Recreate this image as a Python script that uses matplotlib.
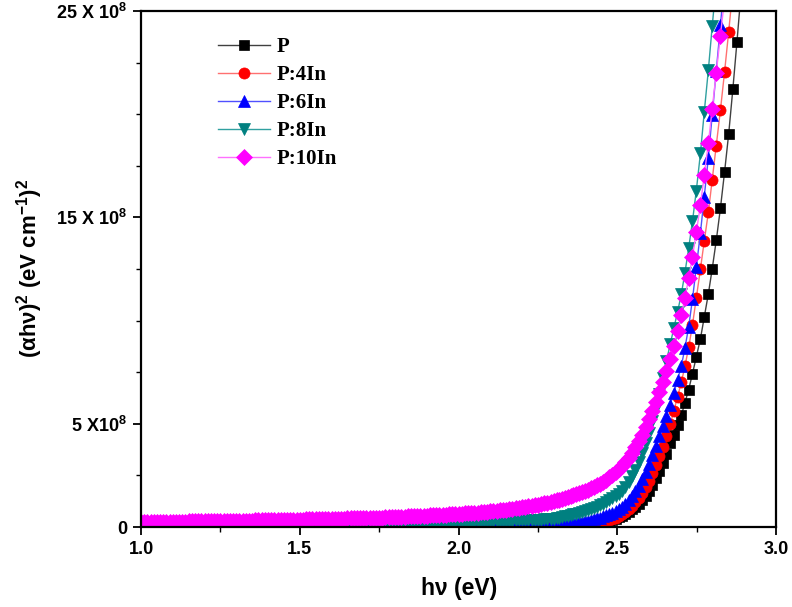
import matplotlib
matplotlib.use('Agg')
import matplotlib.pyplot as plt
from matplotlib.ticker import FixedLocator

plt.rcParams['mathtext.fontset'] = 'custom'
plt.rcParams['mathtext.rm'] = 'Liberation Sans:bold'
plt.rcParams['mathtext.it'] = 'Liberation Sans:bold'
plt.rcParams['mathtext.bf'] = 'Liberation Sans:bold'
plt.rcParams['mathtext.default'] = 'bf'

# photon energy (eV): dense low-energy part, then the measured absorption-edge points
energy_low = [
    1.00, 1.01, 1.02, 1.03, 1.04, 1.05, 1.06, 1.07, 1.08, 1.09,
    1.10, 1.11, 1.12, 1.13, 1.14, 1.15, 1.16, 1.17, 1.18, 1.19,
    1.20, 1.21, 1.22, 1.23, 1.24, 1.25, 1.26, 1.27, 1.28, 1.29,
    1.30, 1.31, 1.32, 1.33, 1.34, 1.35, 1.36, 1.37, 1.38, 1.39,
    1.40, 1.41, 1.42, 1.43, 1.44, 1.45, 1.46, 1.47, 1.48, 1.49,
    1.50, 1.51, 1.52, 1.53, 1.54, 1.55, 1.56, 1.57, 1.58, 1.59,
    1.60, 1.61, 1.62, 1.63, 1.64, 1.65, 1.66, 1.67, 1.68, 1.69,
    1.70, 1.71, 1.72, 1.73, 1.74, 1.75, 1.76, 1.77, 1.78, 1.79,
    1.80, 1.81, 1.82, 1.83, 1.84, 1.85, 1.86, 1.87, 1.88, 1.89,
    1.90, 1.91, 1.92, 1.93, 1.94, 1.95, 1.96, 1.97, 1.98, 1.99,
    2.00, 2.01, 2.02, 2.03, 2.04, 2.05, 2.06, 2.07, 2.08, 2.09,
    2.10, 2.11, 2.12, 2.13, 2.14, 2.15, 2.16, 2.17, 2.18, 2.19,
    2.20, 2.21, 2.22, 2.23, 2.24, 2.25, 2.26, 2.27, 2.28,
]
energy_edge = [
    2.292, 2.301, 2.309, 2.318, 2.326, 2.335, 2.344, 2.353, 2.362, 2.371,
    2.380, 2.389, 2.398, 2.408, 2.417, 2.427, 2.436, 2.446, 2.455, 2.465,
    2.475, 2.485, 2.495, 2.505, 2.515, 2.525, 2.536, 2.546, 2.557, 2.567,
    2.578, 2.589, 2.600, 2.611, 2.622, 2.633, 2.644, 2.655, 2.667, 2.678,
    2.690, 2.702, 2.713, 2.725, 2.737, 2.749, 2.762, 2.774, 2.787, 2.799,
    2.812, 2.825, 2.838, 2.851, 2.864, 2.877, 2.890,
]
energy = energy_low + energy_edge

# (alpha h nu)^2 in units of 10^8 eV^2 cm^-2
p_0 = [0.0] * 129 + [
    0.010, 0.010, 0.010, 0.015, 0.020, 0.025, 0.030, 0.035, 0.040, 0.045,
    0.050, 0.060, 0.070, 0.085, 0.10, 0.12, 0.14, 0.17, 0.20, 0.24,
    0.29, 0.34, 0.40, 0.47, 0.55, 0.64, 0.74, 0.85, 0.98, 1.13,
    1.31, 1.52, 1.76, 2.04, 2.36, 2.72, 3.12, 3.56, 4.05, 4.45,
    4.93, 5.42, 6.01, 6.66, 7.43, 8.23, 9.12, 10.17, 11.3, 12.5,
    13.9, 15.45, 17.2, 19.05, 21.2, 23.5, 25.9,
]

p_4in = [0.0] * 101 + [
    0.003, 0.003, 0.003, 0.004, 0.004, 0.004, 0.005, 0.005, 0.005, 0.006,
    0.006, 0.006, 0.007, 0.007, 0.008, 0.008, 0.009, 0.009, 0.010, 0.011,
    0.011, 0.012, 0.013, 0.014, 0.015, 0.016, 0.017, 0.018,
    0.020, 0.025, 0.030, 0.035, 0.040, 0.045, 0.050, 0.055, 0.060, 0.065,
    0.070, 0.080, 0.090, 0.105, 0.12, 0.145, 0.17, 0.20, 0.23, 0.28,
    0.33, 0.38, 0.44, 0.52, 0.62, 0.73, 0.86, 1.01, 1.20, 1.41,
    1.65, 1.93, 2.25, 2.61, 3.00, 3.42, 3.90, 4.42, 4.97, 5.60,
    6.32, 7.02, 7.78, 8.70, 9.80, 11.1, 12.5, 13.85, 15.25, 16.8,
    18.45, 20.2, 22.05, 24.0, 26.05, 28.2, 30.4,
]

p_6in = [0.0] * 60 + [
    0.005, 0.005, 0.005, 0.005, 0.005, 0.005, 0.005, 0.005, 0.005, 0.005,
    0.008, 0.008, 0.008, 0.009, 0.009, 0.010, 0.010, 0.010, 0.011, 0.011,
    0.012, 0.012, 0.012, 0.013, 0.013, 0.014, 0.014, 0.014, 0.015, 0.015,
    0.016, 0.016, 0.016, 0.017, 0.017, 0.018, 0.018, 0.018, 0.019, 0.019,
    0.020, 0.021, 0.021, 0.022, 0.022, 0.023, 0.024, 0.024, 0.025, 0.026,
    0.028, 0.029, 0.030, 0.031, 0.032, 0.033, 0.034, 0.036, 0.038, 0.040,
    0.043, 0.045, 0.048, 0.050, 0.053, 0.057, 0.061, 0.066, 0.072,
    0.085, 0.092, 0.10, 0.112, 0.125, 0.137, 0.15, 0.17, 0.19, 0.21,
    0.23, 0.255, 0.28, 0.31, 0.34, 0.38, 0.42, 0.46, 0.51, 0.57,
    0.63, 0.70, 0.78, 0.87, 0.98, 1.12, 1.29, 1.49, 1.72, 2.00,
    2.31, 2.66, 3.05, 3.47, 3.92, 4.40, 4.90, 5.40, 5.92, 6.50,
    7.12, 7.82, 8.65, 9.70, 11.05, 12.6, 14.25, 16.0, 17.9, 19.95,
    22.1, 24.3, 26.6, 29.0, 31.4, 33.8, 36.2,
]

p_8in = [
    0.02, 0.02, 0.02, 0.02, 0.02, 0.02, 0.02, 0.03, 0.03, 0.03,
    0.03, 0.03, 0.03, 0.03, 0.03, 0.03, 0.04, 0.04, 0.04, 0.04,
    0.04, 0.04, 0.04, 0.04, 0.05, 0.05, 0.05, 0.05, 0.05, 0.05,
    0.05, 0.06, 0.06, 0.06, 0.06, 0.06, 0.06, 0.06, 0.07, 0.07,
    0.07, 0.07, 0.07, 0.07, 0.08, 0.08, 0.08, 0.08, 0.08, 0.09,
    0.09, 0.09, 0.09, 0.09, 0.10, 0.10, 0.10, 0.10, 0.11, 0.11,
    0.11, 0.11, 0.12, 0.12, 0.12, 0.12, 0.13, 0.13, 0.13, 0.13,
    0.14, 0.14, 0.14, 0.14, 0.15, 0.15, 0.15, 0.15, 0.16, 0.16,
    0.17, 0.17, 0.17, 0.18, 0.18, 0.18, 0.19, 0.19, 0.19, 0.20,
    0.20, 0.20, 0.21, 0.21, 0.21, 0.22, 0.22, 0.23, 0.23, 0.23,
    0.24, 0.24, 0.25, 0.25, 0.25, 0.26, 0.26, 0.27, 0.27, 0.27,
    0.28, 0.28, 0.29, 0.29, 0.30, 0.30, 0.31, 0.31, 0.32, 0.32,
    0.33, 0.33, 0.34, 0.34, 0.35, 0.36, 0.36, 0.37, 0.38,
    0.39, 0.41, 0.43, 0.45, 0.48, 0.51, 0.55, 0.58, 0.61, 0.65,
    0.69, 0.73, 0.78, 0.82, 0.87, 0.93, 0.99, 1.06, 1.13, 1.21,
    1.30, 1.39, 1.49, 1.61, 1.76, 1.95, 2.17, 2.45, 2.77, 3.15,
    3.57, 4.05, 4.57, 5.15, 5.77, 6.45, 7.20, 8.05, 8.88, 9.62,
    10.42, 11.3, 12.3, 13.52, 14.82, 16.3, 18.1, 20.1, 22.15, 24.25,
    26.4, 28.6, 30.85, 33.15, 35.45, 37.8, 40.2,
]

p_10in = [
    0.24, 0.24, 0.24, 0.24, 0.24, 0.25, 0.25, 0.25, 0.25, 0.25,
    0.26, 0.26, 0.26, 0.26, 0.26, 0.27, 0.27, 0.27, 0.27, 0.27,
    0.28, 0.28, 0.28, 0.28, 0.28, 0.29, 0.29, 0.29, 0.29, 0.30,
    0.30, 0.30, 0.30, 0.31, 0.31, 0.31, 0.32, 0.32, 0.32, 0.32,
    0.33, 0.33, 0.33, 0.34, 0.34, 0.34, 0.35, 0.35, 0.35, 0.35,
    0.36, 0.36, 0.37, 0.37, 0.37, 0.38, 0.38, 0.38, 0.39, 0.39,
    0.40, 0.40, 0.40, 0.41, 0.41, 0.42, 0.42, 0.42, 0.43, 0.43,
    0.44, 0.44, 0.45, 0.45, 0.45, 0.46, 0.46, 0.47, 0.47, 0.48,
    0.49, 0.49, 0.50, 0.50, 0.51, 0.52, 0.52, 0.53, 0.54, 0.54,
    0.55, 0.56, 0.57, 0.57, 0.58, 0.59, 0.60, 0.61, 0.62, 0.63,
    0.64, 0.65, 0.66, 0.67, 0.68, 0.69, 0.70, 0.71, 0.73, 0.74,
    0.76, 0.77, 0.79, 0.80, 0.82, 0.84, 0.86, 0.88, 0.90, 0.93,
    0.95, 0.98, 1.00, 1.03, 1.05, 1.08, 1.11, 1.14, 1.17,
    1.21, 1.25, 1.29, 1.33, 1.37, 1.41, 1.46, 1.50, 1.55, 1.59,
    1.64, 1.69, 1.75, 1.81, 1.87, 1.94, 2.02, 2.10, 2.19, 2.29,
    2.40, 2.52, 2.65, 2.80, 2.96, 3.15, 3.36, 3.60, 3.86, 4.16,
    4.48, 4.83, 5.22, 5.63, 6.08, 6.54, 7.04, 7.58, 8.15, 8.78,
    9.48, 10.25, 11.1, 12.05, 13.1, 14.28, 15.6, 17.05, 18.6, 20.25,
    22.0, 23.8, 25.6, 27.4, 29.2, 31.05, 33.0,
]

labels = ['P', 'P:4In', 'P:6In', 'P:8In', 'P:10In']
series = [p_0, p_4in, p_6in, p_8in, p_10in]
marker_colors = ['#000000', '#ff0000', '#0000ff', '#008080', '#ff00ff']
line_colors = ['#404040', '#ff7070', '#5050ff', '#30a0a0', '#ff70ff']
markers = ['s', 'o', '^', 'v', 'D']
msizes = [6.5, 8.0, 9.0, 9.0, 7.8]

x_ticks = [1.0, 1.5, 2.0, 2.5, 3.0]
x_tick_labels = ['1.0', '1.5', '2.0', '2.5', '3.0']
x_minor = [1.25, 1.75, 2.25, 2.75]
y_ticks = [0, 5, 15, 25]
y_tick_labels = ['0', r'5 X10$^{8}$', r'15 X 10$^{8}$', r'25 X 10$^{8}$']
y_minor = [2.5, 7.5, 10, 12.5, 17.5, 20, 22.5]

W, H = 792, 607
fig = plt.figure(figsize=(W / 100, H / 100), dpi=100)
ax = fig.add_axes([141 / W, 1 - 527 / H, 635 / W, 516 / H])

for y, lab, mc, lc, m, ms in zip(series, labels, marker_colors, line_colors, markers, msizes):
    ax.plot(energy, y, color=lc, lw=1.0, marker=m, ms=ms, mfc=mc, mec=mc,
            mew=0.5, label=lab)

ax.set_xlim(1.0, 3.0)
ax.set_ylim(0, 25)

ax.xaxis.set_major_locator(FixedLocator(x_ticks))
ax.set_xticklabels(x_tick_labels)
ax.xaxis.set_minor_locator(FixedLocator(x_minor))
ax.yaxis.set_major_locator(FixedLocator(y_ticks))
ax.set_yticklabels(y_tick_labels)
ax.yaxis.set_minor_locator(FixedLocator(y_minor))

ax.tick_params(which='major', direction='out', length=6, width=1.3,
               labelsize=13, pad=4)
ax.tick_params(which='minor', direction='out', length=3.5, width=1.0)
for lbl in ax.get_xticklabels() + ax.get_yticklabels():
    lbl.set_fontfamily('Liberation Sans')
    lbl.set_fontweight('bold')
for sp in ax.spines.values():
    sp.set_linewidth(1.6)

fig.text(459 / W, 1 - 589 / H, 'h\u03bd (eV)', ha='center', va='center',
         fontsize=16.5, fontweight='bold', family='Liberation Sans')
fig.text(30 / W, 1 - 268 / H, '(\u03b1h\u03bd)$^{2}$ (eV cm$^{-1}$)$^{2}$',
         ha='center', va='center', rotation=90, fontsize=16,
         fontweight='bold', family='Liberation Sans')

leg = ax.legend(loc='upper left', bbox_to_anchor=(0.1145, 0.958), frameon=False,
                prop={'family': 'Liberation Serif', 'weight': 'bold', 'size': 15},
                handlelength=2.5, handletextpad=0.34, labelspacing=0.39,
                borderaxespad=0, borderpad=0.2)

fig.savefig('out.png', dpi=100)
